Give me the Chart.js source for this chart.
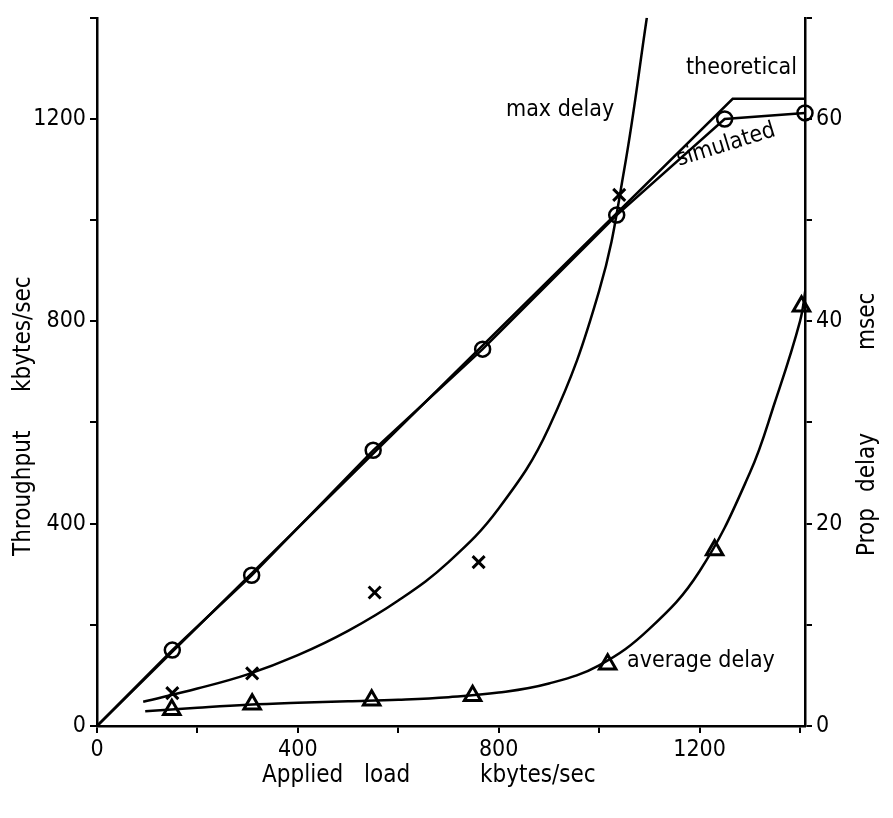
<!DOCTYPE html>
<html>
<head>
<meta charset="utf-8">
<script src="https://cdn.jsdelivr.net/npm/chart.js@4.4.1/dist/chart.umd.min.js"></script>
<style>
  html, body { margin: 0; padding: 0; background: #fff; }
</style>
</head>
<body>
<canvas id="chart" width="893" height="818"></canvas>
<script>
// applied load (kbytes/sec) and throughput (kbytes/sec), simulated
const simLoad = [0, 150, 308, 550, 768, 1035, 1250, 1410];
const simThroughput = [0, 150, 298, 545, 745, 1010, 1200, 1212];

// theoretical throughput
const theoLoad = [0, 1266, 1410];
const theoThroughput = [0, 1240, 1240];

// max delay (msec): measured points, and the hand-drawn curve
const maxLoad = [150, 309, 553, 760, 1040];
const maxDelay = [3.25, 5.2, 13.2, 16.2, 52.5];
const maxCurveLoad = [92, 200, 300, 400, 500, 600, 700, 800, 900, 1000, 1050, 1095];
const maxCurveDelay = [2.4, 3.7, 5.1, 7.0, 9.4, 12.4, 16.2, 21.5, 29.5, 43.0, 55, 70];

// average delay (msec): measured points, and the hand-drawn curve
const avgLoad = [149, 309, 547, 748, 1017, 1230, 1403];
const avgDelay = [1.6, 2.15, 2.55, 3.0, 6.1, 17.4, 41.5];
const avgCurveLoad = [96, 200, 300, 400, 500, 600, 700, 800, 900, 1000, 1100, 1200, 1300, 1350, 1400, 1412];
const avgCurveDelay = [1.45, 1.8, 2.1, 2.3, 2.45, 2.6, 2.85, 3.3, 4.2, 6.0, 9.6, 15.3, 25.0, 32.0, 40.0, 43.5];

// axis ticks (all tick marks, and the labelled ones)
const loadTickValues = [0, 200, 400, 600, 800, 1000, 1200, 1400];
const loadTicks = [0, 400, 800, 1200];
const throughputTickValues = [0, 200, 400, 600, 800, 1000, 1200, 1400];
const throughputTicks = [0, 400, 800, 1200];
const delayTickValues = [0, 10, 20, 30, 40, 50, 60, 70];
const delayTicks = [0, 20, 40, 60];

const fontFamily = "'DejaVu Sans Condensed', 'Liberation Sans Narrow', sans-serif";

function pts(xs, ys) {
  return xs.map((x, i) => ({ x: x, y: ys[i] }));
}

// free text on the plot: axis titles and curve labels
const textPlugin = {
  id: 'plotText',
  afterDraw(chart) {
    const ctx = chart.ctx;
    ctx.save();
    ctx.fillStyle = '#000';
    ctx.textBaseline = 'middle';
    ctx.textAlign = 'left';
    ctx.font = '24px ' + fontFamily;

    // x axis title
    ctx.fillText('Applied', 262, 776);
    ctx.fillText('load', 364, 776);
    ctx.fillText('kbytes/sec', 480, 776);

    // left axis title (reads bottom to top)
    ctx.save();
    ctx.translate(24, 0);
    ctx.rotate(-Math.PI / 2);
    ctx.fillText('Throughput', -556, 0);
    ctx.fillText('kbytes/sec', -392, 0);
    ctx.restore();

    // right axis title (reads bottom to top)
    ctx.save();
    ctx.translate(868, 0);
    ctx.rotate(-Math.PI / 2);
    ctx.fillText('Prop', -556, 0);
    ctx.fillText('delay', -492, 0);
    ctx.fillText('msec', -350, 0);
    ctx.restore();

    // curve labels
    ctx.font = '23px ' + fontFamily;
    ctx.fillText('max delay', 506, 110);
    ctx.fillText('theoretical', 686, 68);
    ctx.fillText('average delay', 627, 661);
    ctx.save();
    ctx.translate(726, 145);
    ctx.rotate(-0.3);
    ctx.textAlign = 'center';
    ctx.fillText('simulated', 0, 0);
    ctx.restore();

    ctx.restore();
  }
};

function fixSize(prop, size) {
  return function (scale) { scale[prop] = size; };
}

function setTicks(values) {
  return function (scale) {
    scale.ticks = values.map(v => ({ value: v }));
  };
}

function labelOnly(list) {
  return function (v) { return list.includes(v) ? String(v) : ''; };
}

const axisCommon = {
  grid: { drawOnChartArea: false, drawTicks: true, tickLength: 7, color: '#000', lineWidth: 2 },
  border: { display: true, color: '#000', width: 2.5 }
};

const tickFont = { family: fontFamily, size: 23 };

const config = {
  type: 'scatter',
  data: {
    datasets: [
      {
        label: 'theoretical',
        data: pts(theoLoad, theoThroughput),
        yAxisID: 'y',
        showLine: true,
        borderColor: '#000',
        borderWidth: 2.5,
        pointRadius: 0,
        tension: 0
      },
      {
        label: 'simulated',
        data: pts(simLoad, simThroughput),
        yAxisID: 'y',
        showLine: true,
        borderColor: '#000',
        borderWidth: 2.5,
        backgroundColor: 'rgba(0,0,0,0)',
        pointStyle: 'circle',
        pointRadius: simLoad.map(x => (x === 0 ? 0 : 7.5)),
        pointBorderWidth: 2.5,
        pointBorderColor: '#000',
        clip: false,
        tension: 0
      },
      {
        label: 'max delay curve',
        data: pts(maxCurveLoad, maxCurveDelay),
        yAxisID: 'y2',
        showLine: true,
        borderColor: '#000',
        borderWidth: 2.5,
        pointRadius: 0,
        tension: 0.4
      },
      {
        label: 'max delay',
        data: pts(maxLoad, maxDelay),
        yAxisID: 'y2',
        showLine: false,
        pointStyle: 'crossRot',
        pointRadius: 8.5,
        pointBorderWidth: 3,
        pointBorderColor: '#000'
      },
      {
        label: 'average delay curve',
        data: pts(avgCurveLoad, avgCurveDelay),
        yAxisID: 'y2',
        showLine: true,
        borderColor: '#000',
        borderWidth: 2.5,
        pointRadius: 0,
        tension: 0.4
      },
      {
        label: 'average delay',
        data: pts(avgLoad, avgDelay),
        yAxisID: 'y2',
        showLine: false,
        pointStyle: 'triangle',
        pointRadius: 9.5,
        pointBorderWidth: 3,
        pointBorderColor: '#000',
        backgroundColor: 'rgba(0,0,0,0)',
        clip: false
      }
    ]
  },
  options: {
    responsive: false,
    animation: false,
    devicePixelRatio: 1,
    layout: { padding: { top: 13, left: 0, right: 0, bottom: 0 } },
    plugins: {
      legend: { display: false },
      tooltip: { enabled: false }
    },
    scales: {
      x: {
        type: 'linear',
        position: 'bottom',
        min: 0,
        max: 1410,
        afterFit: fixSize('height', 92),
        afterBuildTicks: setTicks(loadTickValues),
        ticks: {
          autoSkip: false,
          maxRotation: 0,
          minRotation: 0,
          padding: 3,
          color: '#000',
          font: tickFont,
          callback: labelOnly(loadTicks)
        },
        ...axisCommon
      },
      y: {
        type: 'linear',
        position: 'left',
        min: 0,
        max: 1400,
        afterFit: fixSize('width', 97),
        afterBuildTicks: setTicks(throughputTickValues),
        ticks: {
          autoSkip: false,
          padding: 4,
          color: '#000',
          font: tickFont,
          callback: labelOnly(throughputTicks)
        },
        ...axisCommon
      },
      y2: {
        type: 'linear',
        position: 'right',
        min: 0,
        max: 70,
        afterFit: fixSize('width', 88),
        afterBuildTicks: setTicks(delayTickValues),
        ticks: {
          autoSkip: false,
          padding: 4,
          color: '#000',
          font: tickFont,
          callback: labelOnly(delayTicks)
        },
        ...axisCommon
      }
    }
  },
  plugins: [textPlugin]
};

const chart = new Chart(document.getElementById('chart'), config);
</script>
</body>
</html>
